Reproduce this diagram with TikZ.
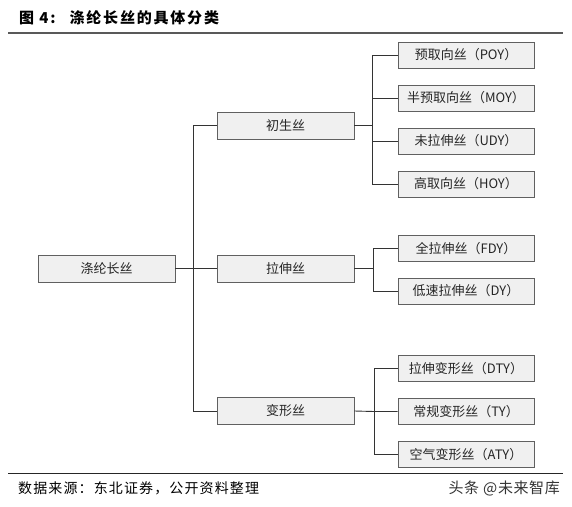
\documentclass[tikz,border=0pt]{standalone}
\usepackage{fontspec}
\setmainfont{Noto Sans CJK SC}
\usepackage{tikz}

\begin{document}
\begin{tikzpicture}[x=1pt,y=-1pt]
\tikzset{box/.style={draw=gray!75!black, fill=gray!12, line width=0.9pt,
  minimum width=137pt, minimum height=27pt, inner sep=0pt,
  font=\fontsize{13}{13}\selectfont, text=black!85}}
\tikzset{link/.style={draw=black!80, line width=0.9pt}}
\useasboundingbox (0,0) rectangle (572,506);
% title and rules
\node[anchor=west, inner sep=0pt, font=\fontsize{15}{15}\selectfont\bfseries\addfontfeature{LetterSpace=12}] (title) at (19,18) {图 4:\hspace{14pt}涤纶长丝的具体分类};
\draw[gray!70!black, line width=1.4pt] (8,33) -- (563,33);
\draw[black!85, line width=1pt] (8,473) -- (563,473);
\node[anchor=west, inner sep=0pt, font=\fontsize{14}{14}\selectfont\addfontfeature{LetterSpace=8}] (src) at (18,488) {数据来源：东北证券，公开资料整理};
\node[anchor=east, inner sep=0pt, font=\fontsize{15}{15}\selectfont\addfontfeature{LetterSpace=4}, text=black!80] (mark) at (560,488) {头条 @未来智库};
% boxes
\node[box] (root) at (106.5,268.5) {涤纶长丝};
\node[box] (chu) at (285.5,125.5) {初生丝};
\node[box] (la) at (285.5,268.5) {拉伸丝};
\node[box] (bian) at (285.5,411) {变形丝};
\node[box, minimum width=136pt, minimum height=26pt] (poy) at (466,55) {预取向丝（POY）};
\node[box, minimum width=136pt, minimum height=26pt] (moy) at (466,98) {半预取向丝（MOY）};
\node[box, minimum width=136pt, minimum height=26pt] (udy) at (466,141) {未拉伸丝（UDY）};
\node[box, minimum width=136pt, minimum height=26pt] (hoy) at (466,184) {高取向丝（HOY）};
\node[box, minimum width=136pt, minimum height=26pt] (fdy) at (466,248.5) {全拉伸丝（FDY）};
\node[box, minimum width=136pt, minimum height=26pt] (dy) at (466,291) {低速拉伸丝（DY）};
\node[box, minimum width=136pt, minimum height=26pt] (dty) at (466,368.5) {拉伸变形丝（DTY）};
\node[box, minimum width=136pt, minimum height=26pt] (ty) at (466,411.5) {常规变形丝（TY）};
\node[box, minimum width=136pt, minimum height=26pt] (aty) at (466,454.5) {空气变形丝（ATY）};
% connectors
\coordinate (t1) at (193,268.5);
\draw[link] (root.east) -- (t1) -- (la.west);
\draw[link] (chu.west) -- (chu.west -| t1) -- (bian.west -| t1) -- (bian.west);
\coordinate (t2) at (372,125.5);
\draw[link] (chu.east) -- (t2);
\draw[link] (poy.west) -- (poy.west -| t2) -- (hoy.west -| t2) -- (hoy.west);
\draw[link] (moy.west) -- (moy.west -| t2);
\draw[link] (udy.west) -- (udy.west -| t2);
\coordinate (t3) at (373,268.5);
\draw[link] (la.east) -- (t3);
\draw[link] (fdy.west) -- (fdy.west -| t3) -- (dy.west -| t3) -- (dy.west);
\coordinate (t4) at (374,411.5);
\draw[link] (bian.east) -- (t4) -- (ty.west);
\draw[link] (dty.west) -- (dty.west -| t4) -- (aty.west -| t4) -- (aty.west);
\end{tikzpicture}
\end{document}
